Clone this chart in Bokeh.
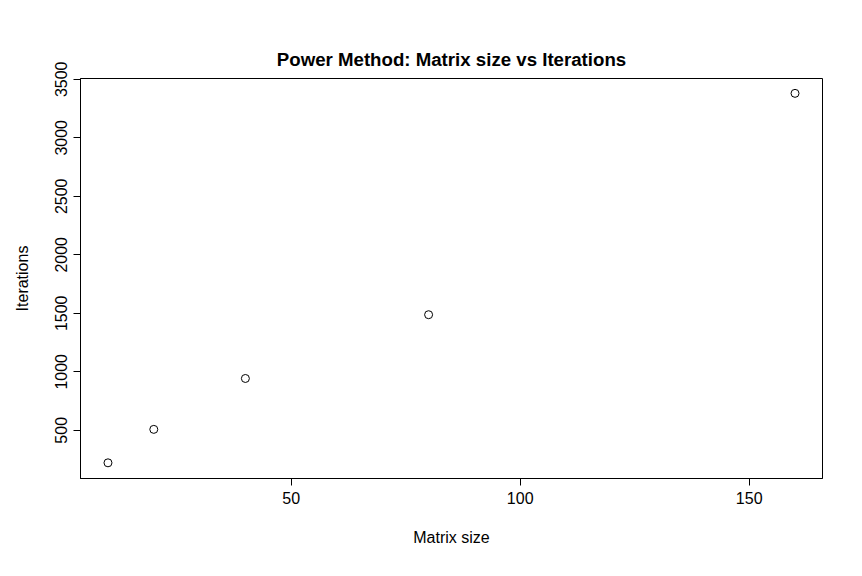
from bokeh.plotting import figure
from bokeh.models import FixedTicker, Range1d
from bokeh.embed import file_html
from bokeh.resources import INLINE

matrix_size = [10, 20, 40, 80, 160]
iterations = [222, 508, 943, 1488, 3380]
x_ticks = [50, 100, 150]
y_ticks = [500, 1000, 1500, 2000, 2500, 3000, 3500]

p = figure(width=846, height=560, output_backend="svg", toolbar_location=None,
           x_range=Range1d(4, 166), y_range=Range1d(88, 3507),
           min_border_left=80, min_border_right=24, min_border_top=78, min_border_bottom=82)
p.title.text = "Power Method: Matrix size vs Iterations"
p.title.align = "center"
p.title.text_font = "Liberation Sans"
p.title.text_font_size = "14pt"
p.title.text_font_style = "bold"
p.title.text_color = "black"
p.title.standoff = 18
p.grid.visible = False
p.outline_line_color = "black"
p.outline_line_width = 1

p.scatter(matrix_size, iterations, size=8, fill_color=None, line_color="black", line_width=1)

for ax in (p.xaxis[0], p.yaxis[0]):
    ax.axis_line_color = "black"
    ax.major_tick_out = 7
    ax.major_tick_in = 0
    ax.minor_tick_line_color = None
    ax.major_label_text_font = "Liberation Sans"
    ax.major_label_text_font_size = "12pt"
    ax.major_label_text_color = "black"
    ax.axis_label_text_font = "Liberation Sans"
    ax.axis_label_text_font_size = "12pt"
    ax.axis_label_text_font_style = "normal"
    ax.axis_label_text_color = "black"
p.xaxis.ticker = FixedTicker(ticks=x_ticks)
p.yaxis.ticker = FixedTicker(ticks=y_ticks)
p.xaxis.axis_label = "Matrix size"
p.yaxis.axis_label = "Iterations"
p.yaxis.major_label_orientation = "vertical"
p.xaxis.axis_label_standoff = 22
p.yaxis.axis_label_standoff = 22
p.xaxis.major_label_standoff = 6
p.yaxis.major_label_standoff = 6

open("out.html", "w").write(file_html(p, INLINE))
